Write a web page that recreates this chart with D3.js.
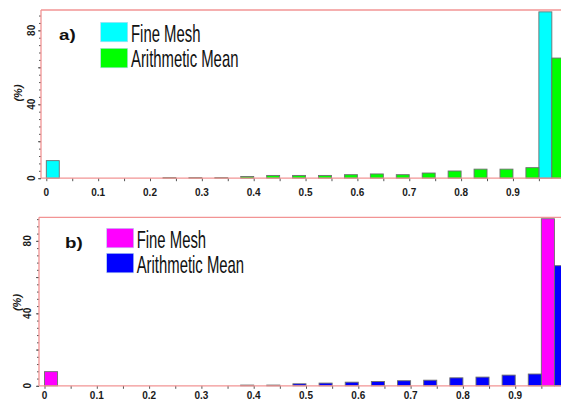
<!DOCTYPE html>
<html>
<head>
<meta charset="utf-8">
<script src="https://cdn.jsdelivr.net/npm/d3@7"></script>
<style>
  html, body { margin: 0; padding: 0; background: #fff; overflow: hidden; }
  svg { display: block; }
</style>
</head>
<body>
<script>
// ---------------- DATA ----------------
const binStarts = [0, 0.05, 0.1, 0.15, 0.2, 0.25, 0.3, 0.35, 0.4, 0.45,
                   0.5, 0.55, 0.6, 0.65, 0.7, 0.75, 0.8, 0.85, 0.9, 0.95];
const xTickLabels = ["0", "0.1", "0.2", "0.3", "0.4", "0.5", "0.6", "0.7", "0.8", "0.9"];
const xTickValues = [0, 0.1, 0.2, 0.3, 0.4, 0.5, 0.6, 0.7, 0.8, 0.9];
const yTickValues = [0, 40, 80];
const seriesNames = ["Fine Mesh", "Arithmetic Mean"];
const panelLabels = ["a)", "b)"];

// panel a)
const fineMeshA = [9.5, 0, 0, 0, 0, 0, 0, 0, 0, 0,
                   0, 0, 0, 0, 0, 0, 0, 0, 0, 90.0];
const arithMeanA = [0, 0, 0, 0, 0.3, 0.3, 0.3, 0.9, 1.5, 1.5,
                    1.5, 1.9, 2.3, 1.9, 2.8, 3.9, 4.9, 4.9, 5.7, 65.0];
// panel b)
const fineMeshB = [7.8, 0, 0, 0, 0, 0, 0, 0, 0, 0,
                   0, 0, 0, 0, 0, 0, 0, 0, 0, 92.2];
const arithMeanB = [0, 0, 0, 0, 0, 0, 0, 0.4, 0.4, 1.1,
                    1.5, 2.0, 2.4, 2.8, 3.1, 4.4, 4.8, 5.9, 6.5, 66.3];

const colorsA = ["#00ffff", "#00ff00"];
const colorsB = ["#ff00ff", "#0000ff"];

// ---------------- LAYOUT ----------------
const W = 561, H = 401;
const binWidth = 0.05;

const panels = [
  { label: panelLabels[0], series: [fineMeshA, arithMeanA], colors: colorsA,
    axisX: 41, x0: 46.3, x1: 46.3 + 518.5, top: 10, zero: 178.2, yMax: 91,
    ylabX: 34.6, pctX: 22, pctY: 93, xlabDy: 17.3,
    labX: 59, labY: 39.5, legX: 100.7, legText: 131, legY: [22.3, 48.3], legBase: [42, 66.7] },
  { label: panelLabels[1], series: [fineMeshB, arithMeanB], colors: colorsB,
    axisX: 39, x0: 44.5, x1: 44.5 + 523, top: 217.3, zero: 385.8, yMax: 93,
    ylabX: 30.6, pctX: 21, pctY: 302.5, xlabDy: 12.8,
    labX: 65, labY: 248, legX: 106.7, legText: 136.7, legY: [228.3, 253.3], legBase: [248.3, 272.7] }
];

const svg = d3.select("body").append("svg")
  .attr("width", W).attr("height", H);

const frameColor = "#f29494";
const tickColor = "#555";

panels.forEach(p => {
  const g = svg.append("g");
  const x = d3.scaleLinear().domain([0, 1]).range([p.x0, p.x1]);
  const y = d3.scaleLinear().domain([0, p.yMax]).range([p.zero, p.top]);

  // bars
  p.series.forEach((vals, si) => {
    g.append("g").selectAll("rect")
      .data(binStarts.map((b, i) => ({ b, v: vals[i] })).filter(d => d.v > 0))
      .join("rect")
      .attr("x", d => x(d.b + si * binWidth / 2))
      .attr("width", d => x(d.b + (si + 1) * binWidth / 2) - x(d.b + si * binWidth / 2))
      .attr("y", d => y(d.v))
      .attr("height", d => y(0) - y(d.v))
      .attr("fill", p.colors[si])
      .attr("stroke", "#6e6e6e")
      .attr("stroke-width", 0.9);
  });

  // x axis ticks (every 0.05) and labels
  const xAxis = d3.axisBottom(x)
    .tickValues(d3.range(0, 20).map(i => i * 0.05))
    .tickSize(3).tickFormat("");
  const xa = g.append("g").attr("transform", `translate(0,${p.zero})`).call(xAxis);
  xa.select(".domain").remove();
  xa.selectAll("line").attr("stroke", tickColor);

  g.append("g").selectAll("text")
    .data(xTickValues)
    .join("text")
    .attr("x", d => x(d))
    .attr("y", p.zero + p.xlabDy)
    .attr("text-anchor", "middle")
    .attr("font-family", "'Liberation Sans', Arial, sans-serif")
    .attr("font-weight", "bold")
    .attr("font-size", 10)
    .attr("fill", "#1a1a1a")
    .text((d, i) => xTickLabels[i]);

  // y axis ticks
  const minorTicks = d3.range(0, p.yMax, 4);
  const yAxisMinor = d3.axisLeft(y).tickValues(minorTicks).tickSize(2).tickFormat("");
  const ya = g.append("g").attr("transform", `translate(${p.axisX},0)`).call(yAxisMinor);
  ya.select(".domain").remove();
  ya.selectAll("line").attr("stroke", tickColor);
  const yAxisMajor = d3.axisLeft(y).tickValues([0, 20, 40, 60, 80]).tickSize(3).tickFormat("");
  const yb = g.append("g").attr("transform", `translate(${p.axisX},0)`).call(yAxisMajor);
  yb.select(".domain").remove();
  yb.selectAll("line").attr("stroke", tickColor);

  g.append("g").selectAll("text")
    .data(yTickValues)
    .join("text")
    .attr("transform", d => `translate(${p.ylabX},${y(d)}) rotate(-90)`)
    .attr("text-anchor", "middle")
    .attr("font-family", "'Liberation Sans', Arial, sans-serif")
    .attr("font-weight", "bold")
    .attr("font-size", 10)
    .attr("fill", "#1a1a1a")
    .text(d => d);

  g.append("text")
    .attr("transform", `translate(${p.pctX},${p.pctY}) rotate(-90)`)
    .attr("text-anchor", "middle")
    .attr("font-family", "'Liberation Sans', Arial, sans-serif")
    .attr("font-weight", "bold")
    .attr("font-style", "italic")
    .attr("font-size", 11)
    .attr("fill", "#1a1a1a")
    .text("(%)");

  // frame: left, top, baseline
  g.append("line").attr("x1", p.axisX).attr("x2", p.axisX)
    .attr("y1", p.top).attr("y2", p.zero)
    .attr("stroke", frameColor).attr("stroke-width", 1.3);
  g.append("line").attr("x1", p.axisX).attr("x2", W)
    .attr("y1", p.top).attr("y2", p.top)
    .attr("stroke", frameColor).attr("stroke-width", 1.3);
  g.append("line").attr("x1", p.axisX).attr("x2", W)
    .attr("y1", p.zero).attr("y2", p.zero)
    .attr("stroke", frameColor).attr("stroke-width", 1.3);

  // panel label
  g.append("text")
    .attr("transform", `translate(${p.labX},${p.labY}) scale(1.25,0.95)`)
    .attr("font-family", "'Liberation Sans', Arial, sans-serif")
    .attr("font-weight", "bold")
    .attr("font-size", 15)
    .attr("fill", "#111")
    .text(p.label);

  // legend
  seriesNames.forEach((name, si) => {
    g.append("rect")
      .attr("x", p.legX).attr("y", p.legY[si])
      .attr("width", 27).attr("height", 19.5)
      .attr("fill", p.colors[si])
      .attr("stroke", "#b8d8f0").attr("stroke-width", 0.6);
    g.append("text")
      .attr("transform", `translate(${p.legText},${p.legBase[si]}) scale(0.62,1)`)
      .attr("font-family", "'Liberation Sans', Arial, sans-serif")
      .attr("font-size", 24)
      .attr("fill", "#111")
      .text(name);
  });
});
</script>
</body>
</html>
